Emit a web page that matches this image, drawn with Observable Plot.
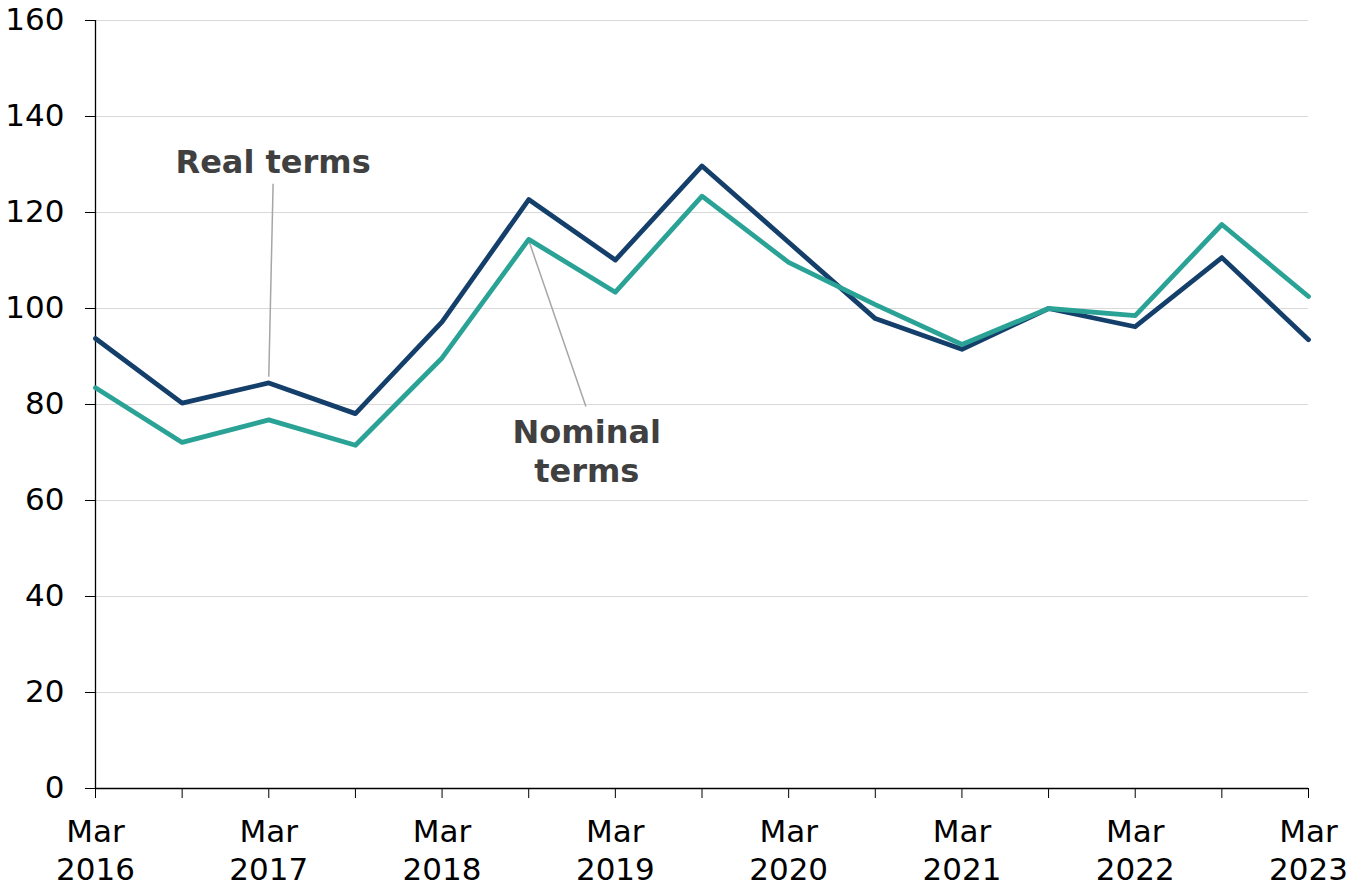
<!DOCTYPE html>
<html>
<head>
<meta charset="utf-8">
<script src="https://cdn.jsdelivr.net/npm/d3@7"></script>
<script src="https://cdn.jsdelivr.net/npm/@observablehq/plot@0.6"></script>
<style>
  html, body { margin: 0; padding: 0; background: #ffffff; }
  #chart { width: 1365px; height: 890px; }
</style>
</head>
<body>
<div id="chart"></div>
<script>
// ---- data ----
const periods = ["Mar 2016","Sep 2016","Mar 2017","Sep 2017","Mar 2018","Sep 2018","Mar 2019","Sep 2019","Mar 2020","Sep 2020","Mar 2021","Sep 2021","Mar 2022","Sep 2022","Mar 2023"];
const realTerms    = [93.75, 80.3, 84.5, 78.1, 97.2, 122.7, 110.1, 129.7, 113.8, 97.9, 91.5, 100.0, 96.2, 110.6, 93.5];
const nominalTerms = [83.5, 72.1, 76.8, 71.5, 89.7, 114.4, 103.4, 123.4, 109.6, 100.8, 92.5, 100.0, 98.5, 117.5, 102.5];
const yTicks = [0, 20, 40, 60, 80, 100, 120, 140, 160];
const gridTicks = [20, 40, 60, 80, 100, 120, 140, 160];

// annotations (data coordinates: x = period index, y = value)
const labels = [
  {name: "Real terms", x: 2.05, y: 133.9},
  {name: "Nominal\nterms", x: 5.67, y: 77.6}
];
const leaders = [
  {x1: 2.05, y1: 126.0, x2: 2.0, y2: 85.8},
  {x1: 5.0, y1: 114.2, x2: 5.66, y2: 79.6}
];

const rows = [];
periods.forEach((p, i) => {
  rows.push({i, period: p, series: "Real terms", value: realTerms[i]});
  rows.push({i, period: p, series: "Nominal terms", value: nominalTerms[i]});
});

const navy = "#143F6B";
const teal = "#2AA396";
const font = "'DejaVu Sans', Verdana, sans-serif";
const allIdx = periods.map((_, i) => i);
const marIdx = allIdx.filter(i => periods[i].startsWith("Mar"));

const chart = Plot.plot({
  width: 1365,
  height: 890,
  marginLeft: 95,
  marginRight: 57,
  marginTop: 20,
  marginBottom: 102,
  style: {fontFamily: font, fontSize: "31px", color: "#000", background: "#fff", overflow: "visible"},
  x: {type: "linear", domain: [0, periods.length - 1]},
  y: {domain: [0, 160]},
  marks: [
    Plot.gridY(gridTicks, {stroke: "#d9d9d9", strokeOpacity: 1, strokeWidth: 1.2}),
    Plot.axisY(yTicks, {tickSize: 10, tickPadding: 21, fontSize: 31, stroke: "#000", label: null, fill: "#000"}),
    Plot.axisX(allIdx, {tickSize: 10, tickPadding: 21, fontSize: 31, stroke: "#000", fill: "#000", label: null,
      tickFormat: i => periods[i].startsWith("Mar") ? periods[i].split(" ")[0] : ""}),
    Plot.axisX(marIdx, {tickSize: 0, tickPadding: 69, fontSize: 31, fill: "#000", label: null,
      tickFormat: i => periods[i].split(" ")[1]}),
    Plot.ruleX([0], {stroke: "#000", strokeWidth: 1.3}),
    Plot.ruleY([0], {stroke: "#000", strokeWidth: 1.3}),
    Plot.link(leaders, {x1: "x1", y1: "y1", x2: "x2", y2: "y2", stroke: "#a6a6a6", strokeWidth: 1.5}),
    Plot.line(rows, {x: "i", y: "value", z: "series",
      stroke: d => d.series === "Real terms" ? navy : teal,
      strokeWidth: 4.8, strokeLinejoin: "round", strokeLinecap: "round"}),
    Plot.text(labels, {x: "x", y: "y", text: "name", lineAnchor: "top", textAnchor: "middle",
      fontSize: 32, fontWeight: "bold", fill: "#404040", lineHeight: 1.2})
  ]
});
document.getElementById("chart").appendChild(chart);
</script>
</body>
</html>
